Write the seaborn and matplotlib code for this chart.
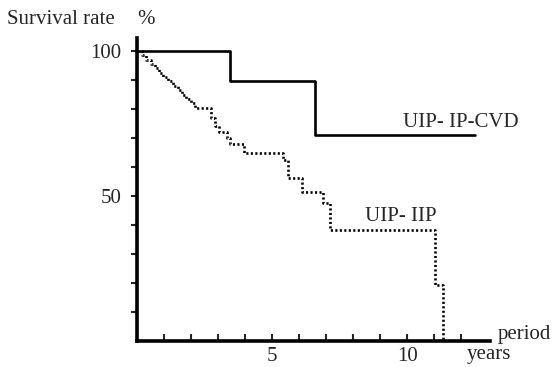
import matplotlib
matplotlib.use("Agg")
import matplotlib.pyplot as plt
import seaborn as sns
import pandas as pd

# ---- data ----
cvd_time = [0, 3.44, 6.6, 12.5]
cvd_surv = [100, 89.7, 71.0, 71.0]

iip_time = [0, 0.2, 0.35, 0.5, 0.65, 0.8, 0.95, 1.15, 1.35, 1.5, 1.65, 1.8,
            2.0, 2.15, 2.75, 2.9, 3.05, 3.35, 3.45, 3.95, 5.4, 5.6, 6.1,
            6.9, 7.15, 11.05, 11.33]
iip_surv = [100, 98.5, 97, 95.5, 94, 92.5, 91, 89.5, 88, 86.5, 85, 83.5,
            82, 80.5, 77, 74, 72, 70, 68, 64.8, 62.3, 56.2, 51.4,
            47.6, 38.4, 19.4, 0]

x_ticks = list(range(1, 13))
x_ticklabels = ["", "", "", "", "5", "", "", "", "", "10", "", ""]
y_ticks = list(range(10, 101, 10))
y_ticklabels = ["", "", "", "", "50", "", "", "", "", "100"]

series_names = ["UIP- IP-CVD", "UIP- IIP"]

cvd_df = pd.DataFrame({"time": cvd_time, "surv": cvd_surv})
iip_df = pd.DataFrame({"time": iip_time, "surv": iip_surv})

sns.set_style("ticks")
plt.rcParams["font.family"] = ["Liberation Serif", "DejaVu Serif"]

fig = plt.figure(figsize=(5.53, 3.67), dpi=100)
ax = fig.add_axes([137 / 553, 26 / 367, 353 / 553, 303 / 367])

sns.lineplot(data=cvd_df, x="time", y="surv", ax=ax, estimator=None,
             drawstyle="steps-post", color="black", linewidth=1.9)
sns.lineplot(data=iip_df, x="time", y="surv", ax=ax, estimator=None,
             drawstyle="steps-post", color="black", linewidth=1.9,
             linestyle=(0, (0.8, 0.9)))

ax.set_xlim(0, 13.07)
ax.set_ylim(0, 104.5)
ax.set_xticks(x_ticks)
ax.set_xticklabels(x_ticklabels, fontsize=15)
ax.set_yticks(y_ticks)
ax.set_yticklabels(y_ticklabels, fontsize=15)
ax.tick_params(axis="x", direction="in", length=5, width=1.5, pad=4)
ax.tick_params(axis="y", direction="out", length=4, width=1.5, pad=7)
ax.set_xlabel("")
ax.set_ylabel("")

for side in ["top", "right"]:
    ax.spines[side].set_visible(False)
for side in ["left", "bottom"]:
    ax.spines[side].set_linewidth(2.6)
    ax.spines[side].set_color("black")

ax.text(12.0, 75.5, series_names[0], fontsize=15, ha="center", va="center")
ax.text(9.75, 42.8, series_names[1], fontsize=15, ha="center", va="center")

fig.text(7 / 553, 1 - 20 / 367, "Survival rate", fontsize=15, ha="left", va="center")
fig.text(137 / 553, 1 - 20 / 367, "%", fontsize=15, ha="left", va="center")
fig.text(498 / 553, 1 - 335 / 367, "period", fontsize=15, ha="left", va="center")
fig.text(467 / 553, 1 - 355 / 367, "years", fontsize=15, ha="left", va="center")

fig.savefig("out.png", dpi=100)
